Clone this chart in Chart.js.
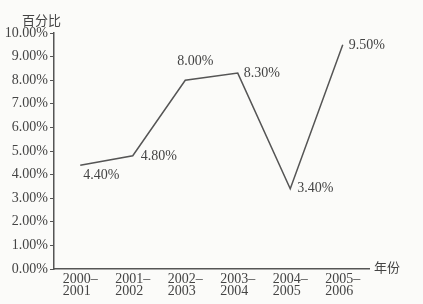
<!DOCTYPE html>
<html>
<head>
<meta charset="utf-8">
<script src="https://cdn.jsdelivr.net/npm/chart.js@4/dist/chart.umd.min.js"></script>
<style>
  html, body { margin: 0; padding: 0; background: #fbfbf9; }
  #wrap { width: 423px; height: 304px; }
</style>
</head>
<body>
<div id="wrap"><canvas id="myChart" width="423" height="304"></canvas></div>
<script>
// en space after the second year keeps both lines left-aligned under the dash
let yearLabels = [
    ['2000–', '2001\u2002'],
    ['2001–', '2002\u2002'],
    ['2002–', '2003\u2002'],
    ['2003–', '2004\u2002'],
    ['2004–', '2005\u2002'],
    ['2005–', '2006\u2002']
];
let rateValues = [4.4, 4.8, 8.0, 8.3, 3.4, 9.5];
let rateTexts = ['4.40%', '4.80%', '8.00%', '8.30%', '3.40%', '9.50%'];

// where each value label sits relative to its point
let labelPlace = [
    { dx: 3, dy: 10, align: 'left' },
    { dx: 8, dy: 1, align: 'left' },
    { dx: 10, dy: -19, align: 'center' },
    { dx: 6, dy: 0, align: 'left' },
    { dx: 7, dy: 0, align: 'left' },
    { dx: 6, dy: 1, align: 'left' }
];

let inkColor = '#444';
let serif = '"Liberation Serif", "DejaVu Serif", serif';
let cjk = '"Noto Sans CJK SC", sans-serif';

let valueLabels = {
    id: 'valueLabels',
    afterDatasetsDraw(chart) {
        let ctx = chart.ctx;
        let meta = chart.getDatasetMeta(0);
        ctx.save();
        ctx.fillStyle = inkColor;
        ctx.font = '14px ' + serif;
        ctx.textBaseline = 'middle';
        meta.data.forEach((pt, i) => {
            let p = labelPlace[i];
            ctx.textAlign = p.align;
            ctx.fillText(rateTexts[i], pt.x + p.dx, pt.y + p.dy);
        });

        // axis names
        let area = chart.chartArea;
        ctx.font = '13px ' + cjk;
        ctx.textAlign = 'left';
        ctx.fillText('百分比', 22, 20);
        ctx.fillText('年份', area.right + 5, area.bottom - 2);
        ctx.restore();
    }
};

let ctx1 = document.getElementById('myChart').getContext('2d');
let myChart = new Chart(ctx1, {
    type: 'line',
    data: {
        labels: yearLabels,
        datasets: [{
            data: rateValues,
            borderColor: '#555',
            borderWidth: 1.5,
            pointRadius: 0,
            tension: 0,
            fill: false
        }]
    },
    options: {
        responsive: false,
        animation: false,
        layout: {
            padding: { left: 0, right: 54, top: 33, bottom: 0 }
        },
        plugins: {
            legend: { display: false },
            tooltip: { enabled: false }
        },
        scales: {
            x: {
                offset: true,
                grid: { display: false, drawTicks: false },
                border: { color: '#555', width: 1.5 },
                ticks: {
                    color: inkColor,
                    font: { family: serif, size: 14, lineHeight: 0.82 },
                    padding: 5,
                    maxRotation: 0,
                    autoSkip: false
                },
                afterFit: (scale) => { scale.height = 35; }
            },
            y: {
                min: 0,
                max: 10,
                grid: { drawOnChartArea: false, drawTicks: true, tickLength: 4, color: '#555' },
                border: { color: '#555', width: 1.5 },
                ticks: {
                    stepSize: 1,
                    color: inkColor,
                    font: { family: serif, size: 14 },
                    padding: 2,
                    callback: (v) => v.toFixed(2) + '%'
                },
                afterFit: (scale) => { scale.width = 54; }
            }
        }
    },
    plugins: [valueLabels]
});
</script>
</body>
</html>
